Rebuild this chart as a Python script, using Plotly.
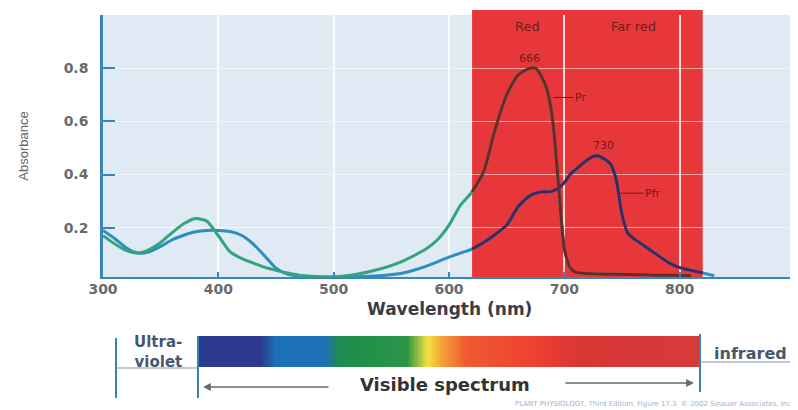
import numpy as np
import plotly.graph_objects as go

# ---------------- data ----------------
WAVELENGTH_NM = [300, 310, 320, 330, 340, 350, 360, 370, 380, 390,
                 400, 410, 420, 430, 440, 450, 460, 470, 480, 500,
                 520, 540, 560, 580, 590, 600, 610, 620, 630, 640,
                 650, 660, 670, 675, 680, 685, 690, 695, 700, 705,
                 710, 720, 725, 730, 740, 745, 750, 755, 760, 770,
                 780, 790, 800, 810, 820, 830]

PR_ABSORBANCE = [0.170, 0.140, 0.115, 0.105, 0.118, 0.145, 0.182, 0.215, 0.235, 0.225,
                 0.170, 0.110, 0.085, 0.068, 0.052, 0.040, 0.030, 0.022, 0.018, 0.015,
                 0.025, 0.045, 0.075, 0.120, 0.155, 0.210, 0.285, 0.335, 0.410, 0.570,
                 0.700, 0.775, 0.800, 0.800, 0.770, 0.720, 0.600, 0.360, 0.120, 0.050,
                 0.032, 0.028, 0.027, 0.026, 0.025, 0.025, 0.025, 0.024, 0.024, 0.023,
                 0.022, 0.022, 0.021, 0.020, None, None]

PFR_ABSORBANCE = [0.190, 0.160, 0.125, 0.105, 0.110, 0.130, 0.155, 0.172, 0.185, 0.190,
                  0.190, 0.186, 0.172, 0.140, 0.095, 0.048, 0.026, 0.018, 0.016, 0.015,
                  0.016, 0.020, 0.030, 0.055, 0.072, 0.090, 0.105, 0.120, 0.145, 0.175,
                  0.210, 0.280, 0.320, 0.330, 0.335, 0.335, 0.338, 0.350, 0.370, 0.400,
                  0.420, 0.455, 0.468, 0.470, 0.440, 0.380, 0.250, 0.180, 0.160, 0.130,
                  0.100, 0.070, 0.050, 0.040, 0.030, 0.020]

X_TICKS = [300, 400, 500, 600, 700, 800, 900]
X_TICK_TEXT = ["300", "400", "500", "600", "700", "800", ""]
Y_TICKS = [0.2, 0.4, 0.6, 0.8, 1.0]
Y_TICK_TEXT = ["0.2", "0.4", "0.6", "0.8", ""]

RED_BAND_NM = [620, 820]
BAND_NAMES = ["Red", "Far red"]
BAND_NAME_NM = [668, 760]

PEAK_NM = [666, 730]
PEAK_TEXT = ["666", "730"]
PEAK_TEXT_ABS = [0.835, 0.51]
PIGMENT_NAMES = ["Pr", "Pfr"]
PIGMENT_LEADER_NM = [688, 746]
PIGMENT_LEADER_ABS = [0.69, 0.33]

SPECTRUM_STOPS_NM = [400, 438, 446, 476, 484, 525, 537, 546, 560, 604, 628, 700]
SPECTRUM_COLORS = ["#2b3990", "#2d3b8e", "#1c70b6", "#1c70b6", "#1d8b4e", "#2a9646",
                   "#f4e040", "#f5a035", "#f05a30", "#ee3e33", "#d93535", "#d63b3b"]

FOOTER = "PLANT PHYSIOLOGY, Third Edition, Figure 17.3  \u00a9 2002 Sinauer Associates, Inc."

# ---------------- helpers ----------------
PAGE_W, PAGE_H = 798, 410
OFF = 8                      # page body margin of the rendered html
W, H = PAGE_W - OFF, PAGE_H - OFF


def px(x):
    """screen x (reference pixels) -> paper fraction"""
    return (x - OFF) / W


def py(y):
    """screen y (reference pixels) -> paper fraction"""
    return 1 - (y - OFF) / H


AXIS_BLUE = "#3a86b8"
PR_COLOR = "#34a37f"
PFR_COLOR = "#2b8fc2"
PR_DARK = "#6b2a2a"
PFR_DARK = "#3b2b5c"
LABEL_DARK = "#6a1e1e"

wl = np.array(WAVELENGTH_NM, dtype=float)
pr = np.array([np.nan if v is None else v for v in PR_ABSORBANCE])
pfr = np.array(PFR_ABSORBANCE, dtype=float)
in_band = (wl >= RED_BAND_NM[0]) & (wl <= RED_BAND_NM[1])

fig = go.Figure()

line_kw = dict(width=3, shape="spline", smoothing=0.6)
fig.add_trace(go.Scatter(x=wl, y=pfr, mode="lines", name="Pfr",
                         line=dict(color=PFR_COLOR, **line_kw), showlegend=False))
fig.add_trace(go.Scatter(x=wl, y=pr, mode="lines", name="Pr",
                         line=dict(color=PR_COLOR, **line_kw), showlegend=False))
fig.add_trace(go.Scatter(x=wl[in_band], y=pfr[in_band], mode="lines", name="Pfr (red region)",
                         line=dict(color=PFR_DARK, **line_kw), showlegend=False))
fig.add_trace(go.Scatter(x=wl[in_band], y=pr[in_band], mode="lines", name="Pr (red region)",
                         line=dict(color=PR_DARK, **line_kw), showlegend=False))

# visible spectrum strip
grid = np.linspace(SPECTRUM_STOPS_NM[0], SPECTRUM_STOPS_NM[-1], 301)
span = SPECTRUM_STOPS_NM[-1] - SPECTRUM_STOPS_NM[0]
colorscale = [[(s - SPECTRUM_STOPS_NM[0]) / span, c] for s, c in zip(SPECTRUM_STOPS_NM, SPECTRUM_COLORS)]
fig.add_trace(go.Heatmap(x=grid, y=[0], z=[grid], colorscale=colorscale,
                         zmin=SPECTRUM_STOPS_NM[0], zmax=SPECTRUM_STOPS_NM[-1],
                         showscale=False, hoverinfo="skip", xaxis="x2", yaxis="y2"))

tick_font = dict(family="DejaVu Sans", size=14, color="#6a6a6a", weight="bold")

fig.update_layout(
    width=W, height=H,
    margin=dict(l=0, r=0, t=0, b=0, autoexpand=False),
    paper_bgcolor="white",
    plot_bgcolor="#dfeaf4",
    showlegend=False,
    xaxis=dict(domain=[px(103), px(795)], range=[300, 900], anchor="y",
               tickmode="array", tickvals=X_TICKS, ticktext=X_TICK_TEXT,
               ticks="inside", ticklen=5, tickwidth=1.5, tickcolor=AXIS_BLUE,
               showline=True, linecolor=AXIS_BLUE, linewidth=2,
               showgrid=True, gridcolor="rgba(255,255,255,0.8)", gridwidth=1.5,
               zeroline=False, tickfont=tick_font, ticklabelstandoff=-2, automargin=False),
    yaxis=dict(domain=[py(277), py(15)], range=[0.015, 1.0], anchor="x",
               tickmode="array", tickvals=Y_TICKS, ticktext=Y_TICK_TEXT,
               ticks="inside", ticklen=12, tickwidth=1.5, tickcolor=AXIS_BLUE,
               showline=True, linecolor=AXIS_BLUE, linewidth=2.5,
               showgrid=True, gridcolor="rgba(255,255,255,0.55)", gridwidth=1,
               zeroline=False, tickfont=tick_font, ticklabelstandoff=9, automargin=False,
               title=dict(text="Absorbance", standoff=33,
                          font=dict(family="Liberation Sans", size=13, color="#666666"))),
    xaxis2=dict(domain=[px(198), px(700)], range=[SPECTRUM_STOPS_NM[0], SPECTRUM_STOPS_NM[-1]],
                anchor="y2", visible=False, fixedrange=True),
    yaxis2=dict(domain=[py(367), py(336)], range=[-0.5, 0.5], anchor="x2",
                visible=False, fixedrange=True),
)

# x axis title
fig.add_annotation(x=0.5, y=py(309), xref="x domain", yref="paper", text="Wavelength (nm)",
                   showarrow=False, xanchor="center", yanchor="middle",
                   font=dict(family="DejaVu Sans", size=17, color="#3c3c46", weight="bold"))

# red / far-red band
fig.add_shape(type="rect", xref="x", yref="paper",
              x0=RED_BAND_NM[0], x1=RED_BAND_NM[1], y0=py(277), y1=py(10),
              fillcolor="#e8373b", line=dict(width=0), layer="below")

for name, nm in zip(BAND_NAMES, BAND_NAME_NM):
    fig.add_annotation(x=nm, y=py(27), xref="x", yref="paper", text=name, showarrow=False,
                       xanchor="center", yanchor="middle",
                       font=dict(family="DejaVu Sans", size=13, color=LABEL_DARK))

for t, nm, a in zip(PEAK_TEXT, PEAK_NM, PEAK_TEXT_ABS):
    fig.add_annotation(x=nm + 4, y=a, xref="x", yref="y", text=t, showarrow=False,
                       xanchor="center", yanchor="middle",
                       font=dict(family="DejaVu Sans", size=11, color=LABEL_DARK))

for name, nm, a, off in zip(PIGMENT_NAMES, PIGMENT_LEADER_NM, PIGMENT_LEADER_ABS, [30, 36]):
    fig.add_annotation(x=nm, y=a, xref="x", yref="y", text=name, showarrow=True,
                       ax=off, ay=0, arrowhead=0, arrowwidth=1, arrowcolor=LABEL_DARK,
                       standoff=3,
                       font=dict(family="DejaVu Sans", size=11, color=LABEL_DARK))

# lower schematic lines
line_blue = dict(color="#3a80b0", width=2)
fig.add_shape(type="line", xref="paper", yref="paper", x0=px(116), x1=px(116), y0=py(338), y1=py(398), line=line_blue)
fig.add_shape(type="line", xref="paper", yref="paper", x0=px(198), x1=px(198), y0=py(336), y1=py(398), line=line_blue)
fig.add_shape(type="line", xref="paper", yref="paper", x0=px(700), x1=px(700), y0=py(334), y1=py(392), line=line_blue)
fig.add_shape(type="line", xref="paper", yref="paper", x0=px(116), x1=px(198), y0=py(368), y1=py(368),
              line=dict(color="#7f93a8", width=1.2))
fig.add_shape(type="line", xref="paper", yref="paper", x0=px(700), x1=px(798), y0=py(362), y1=py(362),
              line=dict(color="#7f93a8", width=1.2))

# arrows for the visible spectrum
fig.add_annotation(x=px(203), y=py(387), xref="paper", yref="paper", text="", showarrow=True,
                   ax=127, ay=0, arrowhead=2, arrowsize=1.2, arrowwidth=1.3, arrowcolor="#6a6a6a")
fig.add_annotation(x=px(694), y=py(383), xref="paper", yref="paper", text="", showarrow=True,
                   ax=-130, ay=0, arrowhead=2, arrowsize=1.2, arrowwidth=1.3, arrowcolor="#6a6a6a")

fig.add_annotation(x=px(158), y=py(352), xref="paper", yref="paper", text="Ultra-<br>violet",
                   showarrow=False, align="right", xanchor="center", yanchor="middle",
                   font=dict(family="DejaVu Sans", size=15, color="#4a5670", weight="bold"))
fig.add_annotation(x=px(750), y=py(353), xref="paper", yref="paper", text="infrared",
                   showarrow=False, xanchor="center", yanchor="middle",
                   font=dict(family="DejaVu Sans", size=16, color="#4a5670", weight="bold"))
fig.add_annotation(x=px(445), y=py(384), xref="paper", yref="paper", text="Visible spectrum",
                   showarrow=False, xanchor="center", yanchor="middle",
                   font=dict(family="DejaVu Sans", size=18, color="#333333", weight="bold"))
fig.add_annotation(x=px(795), y=py(404), xref="paper", yref="paper", text=FOOTER,
                   showarrow=False, xanchor="right", yanchor="middle",
                   font=dict(family="DejaVu Sans", size=7, color="#9fb2cc"))

fig.write_html("out.html")
